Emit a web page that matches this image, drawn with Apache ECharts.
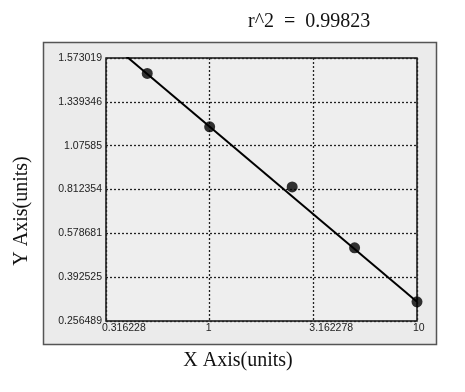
<!DOCTYPE html>
<html><head><meta charset="utf-8">
<script src="https://cdn.jsdelivr.net/npm/echarts@6/dist/echarts.min.js"></script>
<style>html,body{margin:0;padding:0;background:#fff}#c{width:465px;height:392px}</style>
</head><body><div id="c"></div>
<script>
// Tick labels
const xTicks = ['0.316228', '1', '3.162278', '10'];
const yTicks = ['0.256489', '0.392525', '0.578681', '0.812354', '1.07585', '1.339346', '1.573019'];
// Data points
const xVals = [0.5, 1, 2.5, 5, 10];
const yVals = [1.491, 1.189, 0.828, 0.517, 0.316];
// Fit line end points
const fitX = [0.316228, 10];
const fitY = [1.6735, 0.316];
const rSquared = '0.99823';

const yT = yTicks.map(Number);
// map a y value to its position on the tick-labelled axis (piecewise between labelled ticks)
function yPos(v){
  for (let i = 0; i < yT.length - 1; i++) {
    if (v <= yT[i+1] || i === yT.length - 2) {
      return i + (v - yT[i]) / (yT[i+1] - yT[i]);
    }
  }
}
const lx = v => Math.log10(v);
const chart = echarts.init(document.getElementById('c'), null, {renderer:'canvas'});
const serif = '"Liberation Serif","DejaVu Serif",serif';
chart.setOption({
  backgroundColor:'#fff',
  animation:false,
  graphic:[
    {type:'rect', z:-10, shape:{x:43.5,y:42.5,width:393,height:302}, style:{fill:'#ebebeb', stroke:'#555', lineWidth:1.5}},
    {type:'text', x:248, y:22, style:{text:'r^2  =  ' + rSquared, font:'20px ' + serif, fill:'#111', verticalAlign:'middle'}},
    {type:'text', x:238, y:361, style:{text:'X Axis(units)', font:'20px ' + serif, fill:'#111', align:'center', verticalAlign:'middle'}},
    {type:'text', x:22, y:211, rotation:Math.PI/2, style:{text:'Y Axis(units)', font:'20px ' + serif, fill:'#111', align:'center', verticalAlign:'middle'}}
  ],
  grid:{left:106, top:58, right:48, bottom:71, show:true, backgroundColor:'#eeeeee', borderColor:'#111', borderWidth:1.5},
  xAxis:{type:'value', min:-0.5, max:1, interval:0.5,
    axisLine:{show:false}, axisTick:{show:false},
    axisLabel:{formatter:(v)=>xTicks[Math.round((v+0.5)/0.5)], align:'left', margin:2, padding:[0,0,0,-4],
      fontFamily:'"Liberation Sans",Arial,sans-serif', fontSize:10.5, color:'#222', showMinLabel:true, showMaxLabel:true},
    splitLine:{show:true, lineStyle:{color:'#222', type:[2,2], width:1.3}}
  },
  yAxis:{type:'value', min:0, max:6, interval:1,
    axisLine:{show:false}, axisTick:{show:false},
    axisLabel:{formatter:(v)=>yTicks[Math.round(v)], margin:4,
      fontFamily:'"Liberation Sans",Arial,sans-serif', fontSize:10.5, color:'#222', showMinLabel:true, showMaxLabel:true},
    splitLine:{show:true, lineStyle:{color:'#222', type:[2,2], width:1.3}}
  },
  series:[
    {type:'line', data:fitX.map((x,i)=>[lx(x), yPos(fitY[i])]), showSymbol:false, symbol:'none',
      lineStyle:{color:'#000', width:2}, clip:true, z:3},
    {type:'scatter', data:xVals.map((x,i)=>[lx(x), yPos(yVals[i])]), symbol:'circle', symbolSize:11,
      itemStyle:{color:'#000'}, clip:false, z:4}
  ]
});
</script></body></html>
